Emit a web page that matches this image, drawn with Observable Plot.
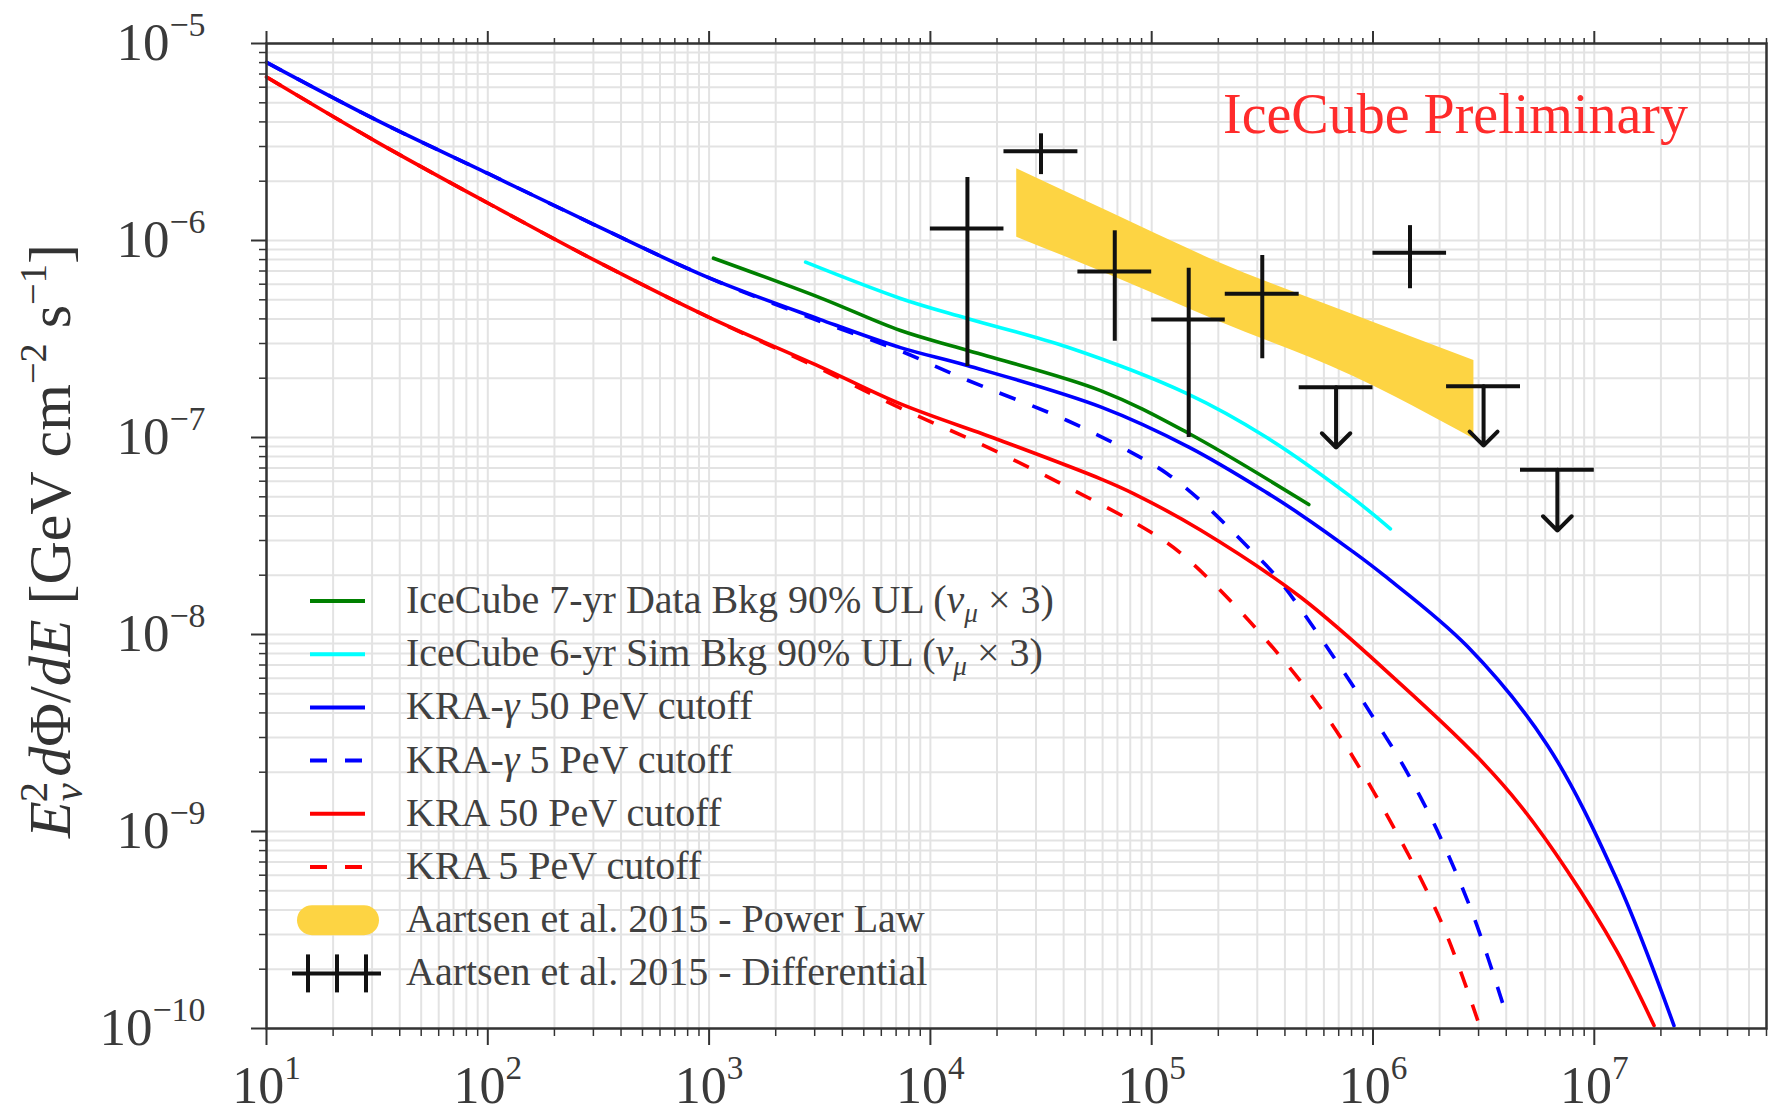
<!DOCTYPE html>
<html><head><meta charset="utf-8">
<script src="https://cdn.jsdelivr.net/npm/d3@7"></script>
<script src="https://cdn.jsdelivr.net/npm/@observablehq/plot@0.6"></script>
<style>
html,body{margin:0;padding:0;background:#fff;overflow:hidden;}
#chart{width:1769px;height:1111px;}
</style></head><body><div id="chart"></div>
<script>
// ---------- tick labels ----------
const xMajor = [1e1, 1e2, 1e3, 1e4, 1e5, 1e6, 1e7];
const xMajorExp = ["1", "2", "3", "4", "5", "6", "7"];
const yMajor = [1e-10, 1e-9, 1e-8, 1e-7, 1e-6, 1e-5];
const yMajorExp = ["\u221210", "\u22129", "\u22128", "\u22127", "\u22126", "\u22125"];

// ---------- model curves (E in GeV, E^2 dPhi/dE) ----------
const kraG50E = [10, 31.6, 100, 316, 1000, 3162, 7328, 14660, 58750, 147900, 331100, 469900, 790700, 1.119e6, 2.667e6, 6.124e6, 1.259e7, 2.291e7];
const kraG50F = [8.02e-6, 4.07e-6, 2.19e-6, 1.175e-6, 6.46e-7, 3.98e-7, 2.86e-7, 2.32e-7, 1.43e-7, 8.91e-8, 5.25e-8, 4.07e-8, 2.69e-8, 2.00e-8, 8.71e-9, 2.75e-9, 5.75e-10, 1.035e-10];

const kraG5E = [10, 31.6, 100, 316, 1000, 3162, 7328, 13680, 41500, 83180, 117500, 166000, 279900, 368100, 665300, 1.119e6, 1.330e6, 1.641e6, 2.018e6, 2.858e6, 4.036e6];
const kraG5F = [8.02e-6, 4.07e-6, 2.19e-6, 1.175e-6, 6.46e-7, 3.89e-7, 2.75e-7, 2.02e-7, 1.22e-7, 8.26e-8, 6.55e-8, 4.79e-8, 2.69e-8, 1.95e-8, 7.67e-9, 3.13e-9, 2.29e-9, 1.49e-9, 9.33e-10, 3.67e-10, 1.14e-10];

const kra50E = [10, 31.6, 100, 316, 1000, 3162, 7328, 20750, 58750, 83180, 166000, 469900, 1.330e6, 2.951e6, 4.645e6, 7.534e6, 1.259e7, 1.862e7];
const kra50F = [6.76e-6, 3.16e-6, 1.55e-6, 7.76e-7, 4.07e-7, 2.29e-7, 1.48e-7, 9.66e-8, 6.17e-8, 5.18e-8, 3.39e-8, 1.55e-8, 5.62e-9, 2.40e-9, 1.35e-9, 6.34e-10, 2.49e-10, 1.035e-10];

const kra5E = [10, 31.6, 100, 316, 1000, 3162, 7328, 17380, 41500, 98850, 139600, 279900, 559800, 1.009e6, 2.018e6, 3.006e6];
const kra5F = [6.76e-6, 3.16e-6, 1.55e-6, 7.76e-7, 4.07e-7, 2.24e-7, 1.41e-7, 9.12e-8, 5.62e-8, 3.31e-8, 2.51e-8, 1.15e-8, 4.47e-9, 1.585e-9, 3.55e-10, 1.06e-10];

// ---------- IceCube upper limits ----------
const ic7E = [1047, 3162, 7328, 14660, 58750, 144500, 512900];
const ic7F = [8.13e-7, 5.13e-7, 3.49e-7, 2.77e-7, 1.73e-7, 1.06e-7, 4.57e-8];
const ic6E = [2730, 7328, 14660, 41500, 144500, 331100, 794300, 1.199e6];
const ic6F = [7.76e-7, 5.08e-7, 4.02e-7, 2.88e-7, 1.67e-7, 1.00e-7, 5.01e-8, 3.44e-8];

// ---------- Aartsen 2015 power law band ----------
const bandE = [2.455e4, 6.31e4, 2.0e5, 7.94e5, 2.858e6];
const bandHi = [2.31e-6, 1.41e-6, 7.76e-7, 4.25e-7, 2.46e-7];
const bandLo = [1.04e-6, 6.76e-7, 3.89e-7, 2.07e-7, 9.84e-8];

// ---------- Aartsen 2015 differential ----------
const diffE = [1.47e4, 3.16e4, 6.81e4, 1.47e5, 3.16e5, 1.47e6];
const diffElo = [1e4, 2.15e4, 4.64e4, 1e5, 2.15e5, 1e6];
const diffEhi = [2.15e4, 4.64e4, 1e5, 2.15e5, 4.64e5, 2.15e6];
const diffF = [1.15e-6, 2.84e-6, 6.97e-7, 3.97e-7, 5.37e-7, 8.67e-7];
const diffFlo = [2.29e-7, 2.16e-6, 3.08e-7, 1.0e-7, 2.51e-7, 5.69e-7];
const diffFhi = [2.09e-6, 3.48e-6, 1.12e-6, 7.24e-7, 8.39e-7, 1.19e-6];
const ulE = [6.81e5, 3.16e6, 6.81e6];
const ulElo = [4.64e5, 2.15e6, 4.64e6];
const ulEhi = [1e6, 4.64e6, 1e7];
const ulF = [1.80e-7, 1.82e-7, 6.85e-8];
const ulTip = [8.9e-8, 9.1e-8, 3.37e-8];

// ---------- legend ----------
const legendLabels = [
  [["IceCube 7-yr Data Bkg 90% UL (", ""], ["\u03bd", "i"], ["\u03bc", "isub"], [" \u00d7 3)", ""]],
  [["IceCube 6-yr Sim Bkg 90% UL (", ""], ["\u03bd", "i"], ["\u03bc", "isub"], [" \u00d7 3)", ""]],
  [["KRA-", ""], ["\u03b3", "i"], [" 50 PeV cutoff", ""]],
  [["KRA-", ""], ["\u03b3", "i"], [" 5 PeV cutoff", ""]],
  [["KRA 50 PeV cutoff", ""]],
  [["KRA 5 PeV cutoff", ""]],
  [["Aartsen et al. 2015 - Power Law", ""]],
  [["Aartsen et al. 2015 - Differential", ""]]
];
const legendKinds = ["line", "line", "line", "dash", "line", "dash", "band", "cross"];
const legendColors = ["#008000", "#00ffff", "#0000ff", "#0000ff", "#ff0000", "#ff0000", "#fdd443", "#111"];

// ---------- build ----------
const toRows = (E, F) => E.map((e, i) => ({E: e, F: F[i]}));
const band = bandE.map((e, i) => ({E: e, lo: bandLo[i], hi: bandHi[i]}));
const diff = diffE.map((e, i) => ({E: e, elo: diffElo[i], ehi: diffEhi[i], F: diffF[i], flo: diffFlo[i], fhi: diffFhi[i]}));
const ul = ulE.map((e, i) => ({E: e, elo: ulElo[i], ehi: ulEhi[i], F: ulF[i], tip: ulTip[i]}));

const xGrid = [], yGrid = [];
for (let e = 1; e <= 7; e++) for (let m = 1; m <= 9; m++) { const v = m * Math.pow(10, e); if (v <= 6e7) xGrid.push(v); }
for (let e = -10; e <= -6; e++) for (let m = 1; m <= 9; m++) yGrid.push(m * Math.pow(10, e));
yGrid.push(1e-5);
const xMinor = xGrid.filter(v => !xMajor.some(M => Math.abs(M - v) / v < 1e-9));
const yMinor = yGrid.filter(v => !yMajor.some(M => Math.abs(M - v) / v < 1e-9));

const serif = "'Liberation Serif', 'DejaVu Serif', serif";
const dash = "17,18";
const lw = 3.6;
const crv = "catmull-rom";

const fmtX = d => "10^" + xMajorExp[xMajor.indexOf(d)];
const fmtY = d => "10^" + yMajorExp[yMajor.indexOf(d)];
const empty = () => "";

const chart = Plot.plot({
  width: 1769, height: 1111,
  marginLeft: 266, marginRight: 3, marginTop: 43, marginBottom: 83,
  style: {fontFamily: serif, background: "#fff", color: "#333", overflow: "visible"},
  x: {type: "log", domain: [10, 6e7]},
  y: {type: "log", domain: [1e-10, 1e-5]},
  marks: [
    Plot.gridX(xGrid, {stroke: "#e3e3e3", strokeOpacity: 1, strokeWidth: 2}),
    Plot.gridY(yGrid, {stroke: "#e3e3e3", strokeOpacity: 1, strokeWidth: 2}),
    Plot.line(toRows(ic7E, ic7F), {x: "E", y: "F", stroke: "#008000", strokeWidth: lw, curve: crv}),
    Plot.line(toRows(ic6E, ic6F), {x: "E", y: "F", stroke: "#00ffff", strokeWidth: lw, curve: crv}),
    Plot.line(toRows(kraG50E, kraG50F), {x: "E", y: "F", stroke: "#0000ff", strokeWidth: lw, curve: crv}),
    Plot.line(toRows(kraG5E, kraG5F), {x: "E", y: "F", stroke: "#0000ff", strokeWidth: lw, strokeDasharray: dash, strokeLinecap: "butt", curve: crv}),
    Plot.line(toRows(kra50E, kra50F), {x: "E", y: "F", stroke: "#ff0000", strokeWidth: lw, curve: crv}),
    Plot.line(toRows(kra5E, kra5F), {x: "E", y: "F", stroke: "#ff0000", strokeWidth: lw, strokeDasharray: dash, strokeLinecap: "butt", curve: crv}),
    Plot.areaY(band, {x: "E", y1: "lo", y2: "hi", fill: "#fdd443", curve: "monotone-x"}),
    Plot.ruleY(diff, {y: "F", x1: "elo", x2: "ehi", stroke: "#111", strokeWidth: 4}),
    Plot.ruleX(diff, {x: "E", y1: "flo", y2: "fhi", stroke: "#111", strokeWidth: 4}),
    Plot.ruleY(ul, {y: "F", x1: "elo", x2: "ehi", stroke: "#111", strokeWidth: 4}),
    Plot.arrow(ul, {x: "E", y1: "F", y2: "tip", stroke: "#111", strokeWidth: 4, headLength: 16, headAngle: 90}),
    Plot.frame({stroke: "#333", strokeWidth: 2.5}),
    Plot.axisX(xMajor, {anchor: "bottom", tickSize: 17, tickPadding: 21, tickFormat: fmtX, fontSize: 52, label: null, stroke: "#333", strokeWidth: 2, fill: "#3a3a3a"}),
    Plot.axisX(xMinor, {anchor: "bottom", tickSize: 8, tickFormat: empty, label: null, stroke: "#333", strokeWidth: 1.5}),
    Plot.axisX(xMajor, {anchor: "top", tickSize: 13, tickFormat: empty, label: null, stroke: "#333", strokeWidth: 2}),
    Plot.axisX(xMinor, {anchor: "top", tickSize: 6, tickFormat: empty, label: null, stroke: "#333", strokeWidth: 1.5}),
    Plot.axisY(yMajor, {anchor: "left", tickSize: 15, tickPadding: 46, tickFormat: fmtY, fontSize: 53, label: null, stroke: "#333", strokeWidth: 2, fill: "#3a3a3a"}),
    Plot.axisY(yMinor, {anchor: "left", tickSize: 7, tickFormat: empty, label: null, stroke: "#333", strokeWidth: 1.5})
  ]
});
document.getElementById("chart").appendChild(chart);

// superscript exponents in tick labels
chart.querySelectorAll("text").forEach(t => {
  const s = t.textContent;
  if (s.startsWith("10^") && t.children.length === 0) {
    const exp = s.slice(3);
    t.textContent = "10";
    const ts = document.createElementNS("http://www.w3.org/2000/svg", "tspan");
    ts.setAttribute("font-size", "0.64em");
    ts.setAttribute("dy", "-24");
    ts.textContent = exp;
    t.appendChild(ts);
  }
});

const svg = d3.select(chart);

function addParts(sel, parts) {
  let shift = 0;
  for (const [txt, kind] of parts) {
    const ts = sel.append("tspan").text(txt);
    let target = 0;
    if (kind === "i" || kind === "isub") ts.attr("font-style", "italic");
    if (kind === "isub" || kind === "sub") { ts.attr("font-size", "0.68em"); target = 9; }
    if (kind === "sup") { ts.attr("font-size", "0.64em"); target = -22; }
    if (target !== shift) { ts.attr("dy", target - shift); shift = target; }
  }
}

// legend
const lg = svg.append("g");
const rowY0 = 601, rowStep = 53.2;
legendLabels.forEach((parts, i) => {
  const y = rowY0 + i * rowStep;
  const k = legendKinds[i], c = legendColors[i];
  if (k === "line" || k === "dash") {
    lg.append("line").attr("x1", 310).attr("x2", 365).attr("y1", y).attr("y2", y)
      .attr("stroke", c).attr("stroke-width", 4)
      .attr("stroke-dasharray", k === "dash" ? dash : null);
  } else if (k === "band") {
    lg.append("rect").attr("x", 297).attr("y", y - 15).attr("width", 82).attr("height", 30).attr("rx", 15).attr("fill", c);
  } else {
    lg.append("line").attr("x1", 292).attr("x2", 381).attr("y1", y).attr("y2", y).attr("stroke", c).attr("stroke-width", 4);
    [308, 337, 366].forEach(x => lg.append("line").attr("x1", x).attr("x2", x).attr("y1", y - 19).attr("y2", y + 19).attr("stroke", c).attr("stroke-width", 4));
  }
  const t = lg.append("text").attr("x", 406).attr("y", y + 12).attr("font-family", serif)
    .attr("text-anchor", "start").attr("font-size", 40).attr("fill", "#404040");
  addParts(t, parts);
});

// annotation
svg.append("text").attr("x", 1223).attr("y", 133).attr("font-family", serif)
  .attr("text-anchor", "start").attr("font-size", 56).attr("fill", "#ff2b2b").text("IceCube Preliminary");

// y-axis label
const yl = svg.append("text").attr("transform", "translate(70,541) rotate(-90)")
  .attr("text-anchor", "middle").attr("font-family", serif).attr("font-size", 60).attr("fill", "#333");
yl.append("tspan").attr("font-style", "italic").text("E");
yl.append("tspan").attr("font-style", "italic").attr("font-size", "0.68em").attr("dy", 12).text("\u03bd");
yl.append("tspan").attr("font-size", "0.68em").attr("dx", -19).attr("dy", -35).text("2");
yl.append("tspan").attr("font-style", "italic").attr("dy", 23).attr("dx", 5).text("d");
yl.append("tspan").text("\u03a6/");
yl.append("tspan").attr("font-style", "italic").text("dE");
yl.append("tspan").text(" [GeV cm");
yl.append("tspan").attr("font-size", "0.64em").attr("dy", -24).text("\u22122");
yl.append("tspan").attr("dy", 24).text(" s");
yl.append("tspan").attr("font-size", "0.64em").attr("dy", -24).text("\u22121");
yl.append("tspan").attr("dy", 24).text("]");
</script>
</body></html>
